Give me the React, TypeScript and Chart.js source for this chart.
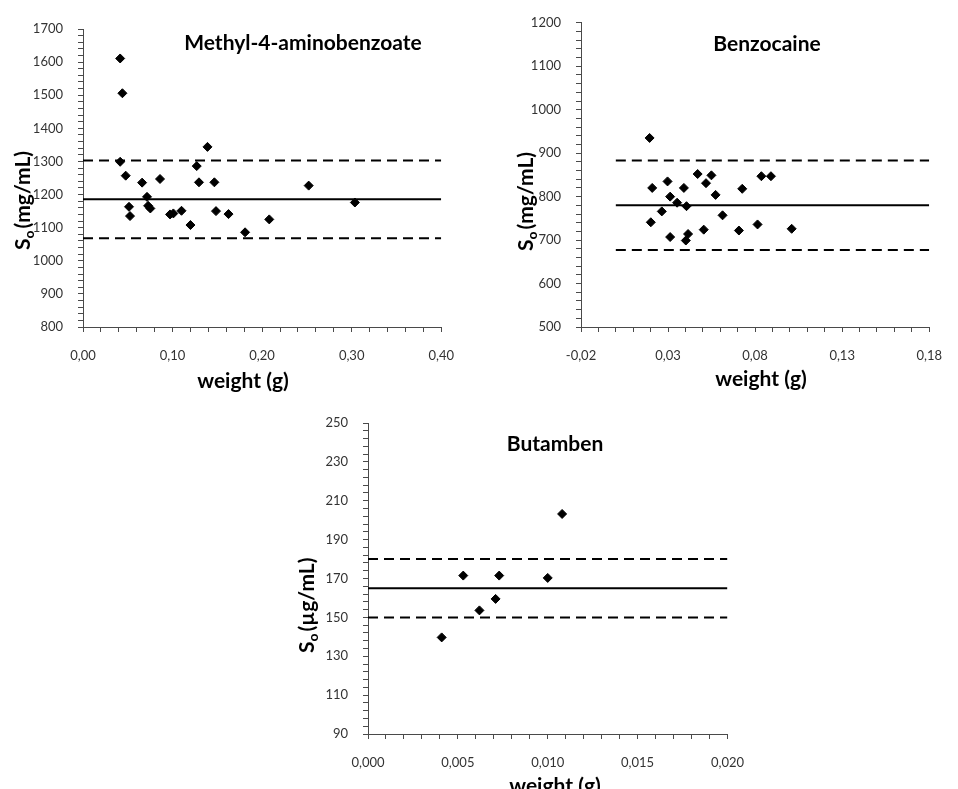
import React, { useEffect, useRef } from 'react';
import { Chart, registerables } from 'chart.js';

Chart.register(...registerables);

// Methyl-4-aminobenzoate: sample weight (g) vs solubility (mg/mL)
const methylWeights = [0.0415, 0.044, 0.0415, 0.0477, 0.0514, 0.0525, 0.066, 0.0715, 0.0727, 0.0752, 0.086, 0.0972, 0.1009, 0.11, 0.12, 0.127, 0.1295, 0.139, 0.1467, 0.1485, 0.1625, 0.181, 0.208, 0.252, 0.3036];
const methylSo = [1611, 1506, 1299, 1257, 1163, 1135, 1236, 1193, 1166, 1158, 1247, 1140, 1143, 1151, 1108, 1286, 1237, 1344, 1237, 1150, 1141, 1086, 1125, 1227, 1176];
const methylMean = 1186;
const methylLimits = [1303, 1068];

// Benzocaine: sample weight (g) vs solubility (mg/mL)
const benzoWeights = [0.0194, 0.0209, 0.0201, 0.0264, 0.0297, 0.0312, 0.0312, 0.0352, 0.0391, 0.0406, 0.0402, 0.0415, 0.047, 0.0505, 0.0518, 0.0549, 0.0573, 0.0613, 0.0707, 0.0726, 0.0814, 0.0836, 0.0891, 0.101];
const benzoSo = [935, 820, 741, 766, 835, 800, 707, 786, 820, 778, 699, 714, 852, 724, 831, 849, 804, 757, 722, 818, 736, 847, 847, 726];
const benzoMean = 780;
const benzoLimits = [883, 677];

// Butamben: sample weight (g) vs solubility (µg/mL)
const butaWeights = [0.0041, 0.0053, 0.0062, 0.0071, 0.0073, 0.01, 0.0108];
const butaSo = [139.7, 171.5, 153.6, 159.5, 171.5, 170.3, 203.2];
const butaMean = 165;
const butaLimits = [180, 150];

const FONT = 'Lato, "Open Sans", sans-serif';
const AXIS_COLOR = '#4a4a4a';
const TICK_TEXT = '#333';

type Box = { left: number; top: number; width: number; height: number };
type Area = { left: number; right: number; top: number; bottom: number };

interface PanelSpec {
  canvas: Box;
  area: Area;
  x: { min: number; max: number; step: number; labelStep: number; decimals: number };
  y: { min: number; max: number; step: number; labelStep: number };
  weights: number[];
  values: number[];
  mean: number;
  limits: number[];
  title: string;
  titleAt: [number, number];
  unit: string;
  yTitleAt: [number, number];
  xTitle: string;
  xTitleAt: [number, number];
}

const panels: PanelSpec[] = [
  {
    canvas: { left: 0, top: 0, width: 470, height: 395 },
    area: { left: 83, right: 447, top: 29, bottom: 327 },
    x: { min: 0, max: 0.4, step: 0.02, labelStep: 0.1, decimals: 2 },
    y: { min: 800, max: 1700, step: 20, labelStep: 100 },
    weights: methylWeights,
    values: methylSo,
    mean: methylMean,
    limits: methylLimits,
    title: 'Methyl-4-aminobenzoate',
    titleAt: [303, 50],
    unit: '(mg/mL)',
    yTitleAt: [30, 250],
    xTitle: 'weight (g)',
    xTitleAt: [243, 388],
  },
  {
    canvas: { left: 470, top: 0, width: 488, height: 395 },
    area: { left: 581, right: 943, top: 18, bottom: 327 },
    x: { min: -0.02, max: 0.18, step: 0.01, labelStep: 0.05, decimals: 2 },
    y: { min: 500, max: 1200, step: 20, labelStep: 100 },
    weights: benzoWeights,
    values: benzoSo,
    mean: benzoMean,
    limits: benzoLimits,
    title: 'Benzocaine',
    titleAt: [767, 51],
    unit: '(mg/mL)',
    yTitleAt: [533, 251],
    xTitle: 'weight (g)',
    xTitleAt: [761, 386],
  },
  {
    canvas: { left: 290, top: 400, width: 470, height: 389 },
    area: { left: 368, right: 731, top: 423, bottom: 734 },
    x: { min: 0, max: 0.02, step: 0.001, labelStep: 0.005, decimals: 3 },
    y: { min: 90, max: 250, step: 4, labelStep: 20 },
    weights: butaWeights,
    values: butaSo,
    mean: butaMean,
    limits: butaLimits,
    title: 'Butamben',
    titleAt: [555, 451],
    unit: '(µg/mL)',
    yTitleAt: [314, 653],
    xTitle: 'weight (g)',
    xTitleAt: [555, 793],
  },
];

// Panel title, rotated "So (unit)" axis title and the x-axis title
const textOverlay = {
  id: 'textOverlay',
  afterDraw(chart: any, _args: any, opts: any) {
    const ctx: CanvasRenderingContext2D = chart.ctx;
    const big = `bold 21px ${FONT}`;
    const small = `bold 14px ${FONT}`;
    ctx.save();
    ctx.fillStyle = '#000';
    ctx.textBaseline = 'alphabetic';

    ctx.font = big;
    ctx.textAlign = 'center';
    ctx.fillText(opts.title, opts.titleAt[0], opts.titleAt[1]);
    ctx.fillText(opts.xTitle, opts.xTitleAt[0], opts.xTitleAt[1]);

    ctx.textAlign = 'left';
    ctx.translate(opts.yTitleAt[0], opts.yTitleAt[1]);
    ctx.rotate(-Math.PI / 2);
    ctx.font = big;
    ctx.fillText('S', 0, 0);
    let w = ctx.measureText('S').width;
    ctx.font = small;
    ctx.fillText('o', w, 4);
    w += ctx.measureText('o').width + 2;
    ctx.font = big;
    ctx.fillText(opts.unit, w, 0);
    ctx.restore();
  },
};

function isMultiple(v: number, base: number, step: number) {
  const k = (v - base) / step;
  return Math.abs(k - Math.round(k)) < 1e-6;
}

function buildConfig(spec: PanelSpec): any {
  const c = spec.canvas;
  const a = spec.area;
  const loc = (p: [number, number]) => [p[0] - c.left, p[1] - c.top];
  const refLine = (label: string, y: number, dash: number[]) => ({
    type: 'line',
    label,
    data: [
      { x: 0, y },
      { x: spec.x.max, y },
    ],
    borderColor: '#000',
    borderWidth: 2,
    borderDash: dash,
    pointRadius: 0,
    fill: false,
    order: 1,
  });

  return {
    type: 'scatter',
    data: {
      datasets: [
        {
          label: 'So',
          data: spec.weights.map((w, i) => ({ x: w, y: spec.values[i] })),
          pointStyle: 'rectRot',
          pointRadius: 4.5,
          pointBorderWidth: 1,
          backgroundColor: '#000',
          borderColor: '#000',
          order: 0,
        },
        refLine('mean', spec.mean, []),
        refLine('upper', spec.limits[0], [10, 6]),
        refLine('lower', spec.limits[1], [10, 6]),
      ],
    },
    options: {
      animation: false,
      responsive: false,
      events: [],
      layout: {
        padding: {
          left: 0,
          top: a.top - c.top,
          right: c.left + c.width - a.right,
          bottom: 0,
        },
      },
      plugins: {
        legend: { display: false },
        tooltip: { enabled: false },
        textOverlay: {
          title: spec.title,
          titleAt: loc(spec.titleAt),
          unit: spec.unit,
          yTitleAt: loc(spec.yTitleAt),
          xTitle: spec.xTitle,
          xTitleAt: loc(spec.xTitleAt),
        },
      },
      scales: {
        x: {
          type: 'linear',
          position: 'bottom',
          min: spec.x.min,
          max: spec.x.max,
          afterFit: (s: any) => {
            s.height = c.top + c.height - a.bottom;
          },
          ticks: {
            stepSize: spec.x.step,
            autoSkip: false,
            maxRotation: 0,
            minRotation: 0,
            padding: 16,
            color: TICK_TEXT,
            font: { family: FONT, size: 13 },
            callback: (v: number) =>
              isMultiple(v, spec.x.min, spec.x.labelStep)
                ? v.toFixed(spec.x.decimals).replace('.', ',')
                : '',
          },
          grid: { drawOnChartArea: false, drawTicks: true, tickLength: 5, color: AXIS_COLOR },
          border: { display: true, color: AXIS_COLOR, width: 1 },
        },
        y: {
          type: 'linear',
          position: 'left',
          min: spec.y.min,
          max: spec.y.max,
          afterFit: (s: any) => {
            s.width = a.left - c.left;
          },
          ticks: {
            stepSize: spec.y.step,
            autoSkip: false,
            padding: 15,
            color: TICK_TEXT,
            font: { family: FONT, size: 13 },
            callback: (v: number) =>
              isMultiple(v, spec.y.min, spec.y.labelStep) ? String(Math.round(v)) : '',
          },
          grid: { drawOnChartArea: false, drawTicks: true, tickLength: 5, color: AXIS_COLOR },
          border: { display: true, color: AXIS_COLOR, width: 1 },
        },
      },
    },
    plugins: [textOverlay],
  };
}

function Panel({ spec }: { spec: PanelSpec }) {
  const ref = useRef<HTMLCanvasElement>(null);
  useEffect(() => {
    const canvas = ref.current;
    if (!canvas) return;
    const chart = new Chart(canvas, buildConfig(spec));
    return () => chart.destroy();
  }, [spec]);
  const c = spec.canvas;
  return (
    <canvas
      ref={ref}
      width={c.width}
      height={c.height}
      style={{ position: 'absolute', left: c.left, top: c.top, width: c.width, height: c.height }}
    />
  );
}

export default function App() {
  return (
    <div
      style={{
        position: 'absolute',
        left: 0,
        top: 0,
        width: 958,
        height: 789,
        overflow: 'hidden',
        background: '#fff',
      }}
    >
      {panels.map((p) => (
        <Panel key={p.title} spec={p} />
      ))}
    </div>
  );
}
